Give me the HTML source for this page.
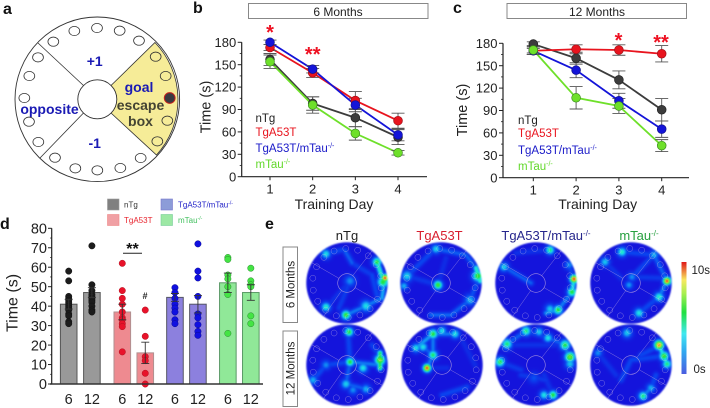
<!DOCTYPE html>
<html lang="en">
<head>
<meta charset="utf-8">
<title>Water maze figure</title>
<style>
html,body{margin:0;padding:0;background:#fff;}
#stage{position:relative;width:710px;height:408px;overflow:hidden;background:#fff;font-family:"Liberation Sans",sans-serif;filter:blur(0.35px);}
#stage canvas{position:absolute;display:block;filter:blur(0.5px);}
#fig{position:absolute;left:0;top:0;}
text{font-family:"Liberation Sans",sans-serif;}
</style>
</head>
<body>
<div id="stage">
<svg id="fig" width="710" height="408" viewBox="0 0 710 408">
  <g font-weight="bold" font-size="16" fill="#111">
    <text x="3" y="14">a</text>
    <text x="193" y="13">b</text>
    <text x="453" y="13">c</text>
    <text x="0" y="229">d</text>
    <text x="265" y="229">e</text>
  </g>

  <g id="arena">
    <circle cx="97.3" cy="99.3" r="82.3" fill="#fff" stroke="#333" stroke-width="0.9"/>
    <path d="M155,42.5 A82.3,82.3 0 0 1 156.5,155 L111,113 A19.5,19.5 0 0 0 111,85.5 Z" fill="#f6ec98" stroke="#333" stroke-width="0.8"/>
    <line x1="38" y1="43" x2="83.5" y2="85.5" stroke="#333" stroke-width="0.8"/>
    <line x1="40" y1="158" x2="83.5" y2="113" stroke="#333" stroke-width="0.8"/>
    <circle cx="97.3" cy="99.3" r="19.5" fill="#fff" stroke="#333" stroke-width="0.9"/>
    <g id="holes"></g>
    <circle cx="169.7" cy="98" r="5.4" fill="#3a3a40" stroke="#c8201c" stroke-width="1"/>
    <g font-weight="bold" font-size="14" text-anchor="middle">
      <text x="94.7" y="66" fill="#1a1ab4">+1</text>
      <text x="49.5" y="114" fill="#1a1ab4">opposite</text>
      <text x="94.7" y="148" fill="#1a1ab4">-1</text>
      <text x="139" y="92" fill="#1a1ab4">goal</text>
      <text x="140.5" y="110" fill="#444433">escape</text>
      <text x="140.5" y="126" fill="#444433">box</text>
    </g>
  </g>

  <g id="panelB">
    <rect x="248.5" y="3.5" width="179.5" height="15" fill="#fff" stroke="#888" stroke-width="1"/>
    <text x="338" y="16" font-size="12" text-anchor="middle" fill="#222">6 Months</text>
    <text transform="translate(210.5,107) rotate(-90)" font-size="14.5" text-anchor="middle" fill="#222">Time (s)</text>
    <text x="334" y="209" font-size="14" text-anchor="middle" fill="#222">Training Day</text>
    <g font-size="11.5">
      <text x="255.5" y="122" fill="#222">nTg</text>
      <text x="255.5" y="136" fill="#e8141e">TgA53T</text>
      <text x="255.5" y="152" fill="#1a1ac8">TgA53T/mTau<tspan font-size="7" dy="-4">-/-</tspan></text>
      <text x="255.5" y="168" fill="#62d82a">mTau<tspan font-size="7" dy="-4">-/-</tspan></text>
    </g>
    <g font-size="20" font-weight="bold" fill="#ee1122" text-anchor="middle">
      <text x="270" y="39">*</text>
      <text x="312.7" y="61">**</text>
    </g>
  </g>

  <g id="panelC">
    <rect x="507" y="3.5" width="179.5" height="15" fill="#fff" stroke="#888" stroke-width="1"/>
    <text x="597" y="16" font-size="12" text-anchor="middle" fill="#222">12 Months</text>
    <text transform="translate(467,110) rotate(-90)" font-size="14.5" text-anchor="middle" fill="#222">Time (s)</text>
    <text x="597.7" y="209" font-size="14" text-anchor="middle" fill="#222">Training Day</text>
    <g font-size="11.5">
      <text x="518" y="124" fill="#222">nTg</text>
      <text x="518" y="137" fill="#e8141e">TgA53T</text>
      <text x="518" y="154" fill="#1a1ac8">TgA53T/mTau<tspan font-size="7" dy="-4">-/-</tspan></text>
      <text x="518" y="170" fill="#62d82a">mTau<tspan font-size="7" dy="-4">-/-</tspan></text>
    </g>
    <g font-size="20" font-weight="bold" fill="#ee1122" text-anchor="middle">
      <text x="618.5" y="47">*</text>
      <text x="661" y="49">**</text>
    </g>
  </g>

  <g id="panelD">
    <text transform="translate(17.5,303) rotate(-90)" font-size="16" text-anchor="middle" fill="#222">Time (s)</text>
    <rect x="107.5" y="199" width="11.5" height="11" fill="#808080" stroke="#999" stroke-width="0.6"/>
    <rect x="107.5" y="214.5" width="11.5" height="11" fill="#f0a0a4" stroke="#e88" stroke-width="0.6"/>
    <rect x="161" y="199" width="11.5" height="11" fill="#8c9cd8" stroke="#77c" stroke-width="0.6"/>
    <rect x="161" y="214.5" width="11.5" height="11" fill="#9ce8a4" stroke="#7c9" stroke-width="0.6"/>
    <g font-size="8">
      <text x="124" y="207.5" fill="#333">nTg</text>
      <text x="124" y="223" fill="#e8242e">TgA53T</text>
      <text x="178" y="207.5" fill="#2222c8">TgA53T/mTau<tspan font-size="5" dy="-3">-/-</tspan></text>
      <text x="178" y="223" fill="#44c060">mTau<tspan font-size="5" dy="-3">-/-</tspan></text>
    </g>
    <text x="132.5" y="254" font-size="16" font-weight="bold" text-anchor="middle" fill="#111">**</text>
    <line x1="123" y1="253.3" x2="142" y2="253.3" stroke="#222" stroke-width="1"/>
    <text x="145" y="299" font-size="9" font-weight="bold" text-anchor="middle" fill="#222">#</text>
  </g>

  <g id="panelE">
    <g font-size="13" text-anchor="middle">
      <text x="347" y="240" fill="#222">nTg</text>
      <text x="439.5" y="240" fill="#d81e2e">TgA53T</text>
      <text x="546" y="240" fill="#26268c">TgA53T/mTau<tspan font-size="8" dy="-4">-/-</tspan></text>
      <text x="639" y="240" fill="#28a040">mTau<tspan font-size="8" dy="-4">-/-</tspan></text>
    </g>
    <rect x="283" y="247" width="14.5" height="75.5" fill="#fff" stroke="#888" stroke-width="1"/>
    <text transform="translate(294.5,284.5) rotate(-90)" font-size="11.5" text-anchor="middle" fill="#222">6 Months</text>
    <rect x="283" y="331" width="14.5" height="75.5" fill="#fff" stroke="#888" stroke-width="1"/>
    <text transform="translate(294.5,368.5) rotate(-90)" font-size="11.5" text-anchor="middle" fill="#222">12 Months</text>
    <defs>
      <linearGradient id="cbar" x1="0" y1="1" x2="0" y2="0">
        <stop offset="0" stop-color="#4a5ce0"/>
        <stop offset="0.2" stop-color="#30a8f0"/>
        <stop offset="0.36" stop-color="#40e8f0"/>
        <stop offset="0.55" stop-color="#20e040"/>
        <stop offset="0.72" stop-color="#a8ee50"/>
        <stop offset="0.84" stop-color="#f8e860"/>
        <stop offset="1" stop-color="#e01818"/>
      </linearGradient>
    </defs>
    <rect x="681.5" y="262" width="5" height="112" fill="url(#cbar)"/>
    <text x="691.5" y="274" font-size="11.5" fill="#222">10s</text>
    <text x="693.5" y="373" font-size="11.5" fill="#222">0s</text>
  </g>
</svg>
</div>

<script>
// ---------- Line chart data ----------
var lineDays = [1, 2, 3, 4];
var lineTicks = [0, 30, 60, 90, 120, 150, 180];
var seriesNames = ['ntg', 'tga53t', 'tga53t-mtau', 'mtau'];

var b_nTg = [157, 98, 79, 53];
var b_TgA53T = [173, 139, 102, 75];
var b_TgMtau = [180, 144, 96, 56];
var b_mTau = [154, 96, 58, 32];
var b_nTgErr = [8, 9, 12, 10];
var b_TgA53TErr = [4, 6, 12, 10];
var b_TgMtauErr = [3, 5, 9, 8];
var b_mTauErr = [9, 11, 9, 3];

var c_nTg = [179, 160, 131, 91];
var c_TgA53T = [170, 172, 171, 166];
var c_TgMtau = [170, 144, 103, 65];
var c_mTau = [171, 107, 96, 43];
var c_nTgErr = [3, 8, 12, 15];
var c_TgA53TErr = [3, 6, 7, 11];
var c_TgMtauErr = [5, 10, 10, 11];
var c_mTauErr = [6, 15, 10, 8];

// ---------- Bar chart data ----------
var barLabels = ['6', '12', '6', '12', '6', '12', '6', '12'];
var barTicks = [0, 10, 20, 30, 40, 50, 60, 70, 80];
var barMeans = [41, 47, 37, 16, 44.5, 41, 52, 47];
var barErrors = [2.5, 2.5, 4, 5.5, 2, 4.5, 5, 4];
var barDots0 = [58, 53, 45, 44, 43, 42, 41, 40, 39, 38, 36, 35, 32, 31];
var barDots1 = [71, 51, 48, 46, 45, 44, 43, 42, 40, 38, 37];
var barDots2 = [62, 48, 44, 41, 37, 34, 33, 31, 29.5, 16.5];
var barDots3 = [38, 24.5, 14, 12, 5.5, 0];
var barDots4 = [49.5, 47, 44, 41, 39, 37, 33, 31];
var barDots5 = [72, 58, 54.5, 45, 36, 34, 30.5, 27, 25];
var barDots6 = [65, 64, 56, 54, 50, 46, 26];
var barDots7 = [59.5, 53, 51, 50, 35, 31];

// ---------- Heatmap data: hot spots [dx, dy, level, spread], trails [x1, y1, x2, y2, level] ----------
var spotsNtg6 = [[30,-21,.62,2.5],[38,-5,1,2],[36,-1,.62,3],[-21,-29,.45,2.5],[-1,32,.65,2.5],[-21,24,.5,2.5],[19,23,.45,3],[3,-2,.3,3]];
var trailsNtg6 = [[30,-21,37,0,.55],[37,0,35,15,.38],[35,15,19,23,.3],[19,23,-1,32,.3],[-21,-29,-5,-33,.2],[-2,-32,5,-20,.25],[5,-20,25,-8,.16],[3,-2,-8,25,.16],[25,-8,30,12,.2],[3,-2,-20,24,.12]];
var spotsTg6 = [[37,-7,.65,3],[-3,2,.66,2.4],[-5,-34,.42,2.5],[-34,-7,.42,3],[-37,3,.36,2.2],[29,17,.36,3]];
var trailsTg6 = [[35,-15,39,-2,.55],[-34,-7,-10,-30,.2],[-5,-34,25,-28,.25],[25,-28,35,-15,.25],[29,17,10,32,.25],[10,32,-10,32,.27],[-34,-7,-3,2,.14],[36,0,29,17,.22],[-3,2,5,-25,.1]];
var spotsNtg12 = [[2,-33,.62,2.4],[33,-5,.75,2.8],[3,-3,.62,2.4],[16,3,.46,2.6],[-1,19,.42,2.6],[-21,0,.3,2.5],[-34,15,.36,2.5],[6,25,.3,2.5],[19,24,.36,2.5]];
var trailsNtg12 = [[33,-12,33,3,.66],[3,-3,33,0,.3],[3,-3,1,-33,.2],[-34,15,-21,0,.2],[-21,0,3,-3,.2],[3,-3,-1,19,.25],[-1,19,19,24,.25],[25,-20,33,-8,.18]];
var spotsTg12 = [[-15,3,1,2.1],[-9,-10,.58,2.5],[-9,-31,.62,2.6],[0,-34,.45,2.4],[13,-31,.46,2.4],[-26,-17,.45,2.4],[-19,-18,.45,2.5]];
var trailsTg12 = [[-9,-31,13,-31,.3],[-26,-17,-9,-31,.36],[-9,-10,-15,3,.3],[-9,-10,-9,-25,.3],[-19,-18,-9,-10,.25],[20,-25,33,0,.1],[0,30,25,22,.2],[-15,3,5,3,.1]];
var spotsMix6 = [[38,-4,1,2.2],[36,9,.62,2.5],[22,27,.62,2.5],[14,-33,.56,2.4],[-32,-16,.42,2.5],[14,26,.4,2.6],[33,-18,.3,2.5]];
var trailsMix6 = [[-32,-16,-5,0,.25],[33,-18,38,-4,.2],[38,-4,36,9,.5],[36,9,22,27,.3],[22,27,10,30,.35],[-20,-30,14,-33,.12]];
var spotsMt6 = [[36,-2,1,2.1],[28,14,.5,2.6],[-9,-31,.5,2.5],[-26,-21,.4,2.5],[8,30,.46,2.6],[23,-28,.36,2.6],[1,-6,.3,2.4],[-2,2,.32,2.2]];
var trailsMt6 = [[-9,-31,23,-28,.2],[23,-28,36,-2,.25],[36,-2,28,14,.3],[28,14,8,30,.2],[1,-6,23,-28,.2],[1,-6,30,-5,.15],[-26,-21,-10,-5,.12]];
var spotsMix12 = [[-10,-34,.56,2.6],[-29,-21,.56,2.8],[-36,-3,.6,2.6],[29,-20,.6,2.8],[34,-8,.72,2.8],[34,-1,.4,2.6],[12,-27,.46,2.4],[3,-33,.4,2.4],[17,30,.62,2.4],[8,30,.46,2.4],[-2,13,.2,3]];
var trailsMix12 = [[-29,-21,-10,-34,.25],[-10,-34,12,-27,.2],[12,-27,29,-20,.25],[29,-20,34,-1,.3],[-36,-3,-15,5,.15],[-15,10,10,15,.15],[17,30,8,10,.12],[-20,-20,25,-20,.12]];
var spotsMt12 = [[28,-20,.95,2.5],[33,-9,.66,2.6],[36,-1,.56,2.4],[-4,-32,.4,2.6],[-33,-12,.3,2.4],[12,31,.56,2.4],[20,23,.36,2.4]];
var trailsMt12 = [[28,-20,36,-1,.5],[33,-9,0,-5,.2],[0,-5,-10,15,.2],[20,23,12,31,.3],[-33,-12,-15,10,.12],[10,-10,30,-20,.2],[25,10,20,23,.2]];

var NS = 'http://www.w3.org/2000/svg';
function mk(tag, attrs, parent) {
  var el = document.createElementNS(NS, tag);
  for (var k in attrs) { el.setAttribute(k, attrs[k]); }
  parent.appendChild(el);
  return el;
}

// Panel a: escape holes
var holePoints = [[291,84],[223,93],[359,92],[160,125],[417,122],[114,172],[467,170],[88,228],[497,228],[73,294],[87,365],[502,362],[115,426],[472,424],[165,473],[422,474],[226,505],[292,511],[361,504]];
var holesGroup = document.getElementById('holes');
holePoints.forEach(function (p, i) {
  var el = mk('ellipse', {cx: p[0] / 3, cy: p[1] / 3, rx: 5.4, ry: 4.6, fill: 'none', stroke: '#333', 'stroke-width': 0.8}, holesGroup);
  
  
});

// Line charts
var lineColors = ['#3c3c3c', '#e8141e', '#1414d8', '#6ee02a'];
var dotStroke = ['#222', '#a01018', '#101090', '#3c8c20'];

function drawLineChart(parent, prefix, ax, values, errors) {
  function x(day) { return ax.x1 + (day - 1) * ax.dx; }
  function y(v) { return ax.y0 - v * (ax.y0 - ax.y180) / 180; }
  var yAxis = mk('line', {x1: ax.left, x2: ax.left, y1: y(0), y2: y(180), stroke: '#222', 'stroke-width': 1.2}, parent);
  
  
  var xAxis = mk('line', {x1: ax.left, x2: ax.right, y1: y(0), y2: y(0), stroke: '#222', 'stroke-width': 1.2}, parent);
  
  
  lineTicks.forEach(function (t, i) {
    var tick = mk('line', {x1: ax.left - 4, x2: ax.left, y1: y(t), y2: y(t), stroke: '#222', 'stroke-width': 1}, parent);
    
    
    if (i > 0) {
      var minor = mk('line', {x1: ax.left - 2, x2: ax.left, y1: y(t - 15), y2: y(t - 15), stroke: '#222', 'stroke-width': 0.8}, parent);
      
      
    }
    var lab = mk('text', {x: ax.left - 5.5, y: y(t) + 4.6, 'font-size': 13, 'text-anchor': 'end', fill: '#222'}, parent);
    lab.textContent = t;
    
    
  });
  lineDays.forEach(function (d) {
    var tick = mk('line', {x1: x(d), x2: x(d), y1: y(0), y2: y(0) + 3.5, stroke: '#222', 'stroke-width': 1}, parent);
    
    
    var lab = mk('text', {x: x(d), y: y(0) + 17, 'font-size': 13, 'text-anchor': 'middle', fill: '#222'}, parent);
    lab.textContent = d;
    
    
  });
  values.forEach(function (series, s) {
    var pts = series.map(function (v, i) { return x(lineDays[i]) + ',' + y(v); }).join(' ');
    var line = mk('polyline', {points: pts, fill: 'none', stroke: lineColors[s], 'stroke-width': 1.8}, parent);
    
    
  });
  values.forEach(function (series, s) {
    series.forEach(function (v, i) {
      var px = x(lineDays[i]);
      var err = errors[s][i];
      var path = 'M' + (px - 6.5) + ' ' + y(v + err) + 'H' + (px + 6.5) + 'M' + (px - 6.5) + ' ' + y(v - err) + 'H' + (px + 6.5) + 'M' + px + ' ' + y(v + err) + 'V' + y(v - err);
      var bar = mk('path', {d: path, fill: 'none', stroke: '#555', 'stroke-width': 0.9}, parent);
      
      
    });
  });
  values.forEach(function (series, s) {
    series.forEach(function (v, i) {
      var dot = mk('circle', {cx: x(lineDays[i]), cy: y(v), r: 4.4, fill: lineColors[s], stroke: dotStroke[s], 'stroke-width': 0.7}, parent);
      
      
    });
  });
}

drawLineChart(document.getElementById('panelB'), 'b',
  {left: 241.7, right: 427, x1: 270, dx: 42.67, y0: 176.7, y180: 42.3},
  [b_nTg, b_TgA53T, b_TgMtau, b_mTau], [b_nTgErr, b_TgA53TErr, b_TgMtauErr, b_mTauErr]);
drawLineChart(document.getElementById('panelC'), 'c',
  {left: 503, right: 689, x1: 533.3, dx: 42.8, y0: 177.7, y180: 43.3},
  [c_nTg, c_TgA53T, c_TgMtau, c_mTau], [c_nTgErr, c_TgA53TErr, c_TgMtauErr, c_mTauErr]);

// Bar chart
(function () {
  var parent = document.getElementById('panelD');
  var dots = [barDots0, barDots1, barDots2, barDots3, barDots4, barDots5, barDots6, barDots7];
  var fills = ['#999999', '#999999', '#ee8a90', '#ee8a90', '#8c80de', '#8c80de', '#90e898', '#90e898'];
  var strokes = ['#555', '#555', '#b09090', '#b09090', '#556', '#556', '#5a9a66', '#5a9a66'];
  var dotFill = ['#1c1c1c', '#1c1c1c', '#e8122a', '#e8122a', '#1010e0', '#1010e0', '#44e444', '#44e444'];
  var dotLine = ['#111', '#111', '#b01020', '#b01020', '#0a0a90', '#0a0a90', '#2a8a30', '#2a8a30'];
  var slots = [0, 1, 2.31, 3.3, 4.58, 5.57, 6.86, 7.85];
  function x(i) { return 68.7 + slots[i] * 23.2; }
  function y(v) { return 384 - v * (384 - 228.3) / 80; }
  barMeans.forEach(function (m, i) {
    var bar = mk('rect', {x: x(i) - 8.3, y: y(m), width: 16.6, height: y(0) - y(m), fill: fills[i], stroke: strokes[i], 'stroke-width': 1}, parent);
    
    
  });
  barMeans.forEach(function (m, i) {
    dots[i].forEach(function (v) {
      var dot = mk('circle', {cx: x(i), cy: y(v), r: 3.2, fill: dotFill[i], stroke: dotLine[i], 'stroke-width': 0.5}, parent);
      
      
    });
    var e = barErrors[i];
    var d = 'M' + (x(i) - 4) + ' ' + y(m + e) + 'H' + (x(i) + 4) + 'M' + (x(i) - 4) + ' ' + y(m - e) + 'H' + (x(i) + 4) + 'M' + x(i) + ' ' + y(m + e) + 'V' + y(m - e);
    var err = mk('path', {d: d, fill: 'none', stroke: '#333', 'stroke-width': 0.9}, parent);
    
    
    var lab = mk('text', {x: x(i), y: 404, 'font-size': 14.5, 'text-anchor': 'middle', fill: '#222'}, parent);
    lab.textContent = barLabels[i];
    
    
  });
  var yAxis = mk('line', {x1: 51.7, x2: 51.7, y1: y(0), y2: y(80), stroke: '#222', 'stroke-width': 1.2}, parent);
  
  
  var xAxis = mk('line', {x1: 50, x2: 263, y1: y(0), y2: y(0), stroke: '#333', 'stroke-width': 1.5}, parent);
  
  
  barTicks.forEach(function (t, i) {
    var tick = mk('line', {x1: 48, x2: 51.7, y1: y(t), y2: y(t), stroke: '#222', 'stroke-width': 1}, parent);
    
    
    if (i > 0) {
      var minor = mk('line', {x1: 50, x2: 51.7, y1: y(t - 5), y2: y(t - 5), stroke: '#222', 'stroke-width': 0.7}, parent);
      
      
    }
    var lab = mk('text', {x: 47, y: y(t) + 5.2, 'font-size': 14.5, 'text-anchor': 'end', fill: '#222'}, parent);
    lab.textContent = t;
    
    
  });
})();

// Heatmaps
var heatStops = [[0,20,20,220],[.18,10,70,240],[.34,20,170,245],[.46,30,235,225],[.6,30,225,60],[.72,120,235,50],[.84,245,240,60],[.93,240,120,30],[1,225,15,20]];
function heatColor(v) {
  v = Math.max(0, Math.min(1, v));
  for (var i = 1; i < heatStops.length; i++) {
    if (v <= heatStops[i][0]) {
      var a = heatStops[i - 1], b = heatStops[i], t = (v - a[0]) / (b[0] - a[0]);
      return [a[1] + t * (b[1] - a[1]), a[2] + t * (b[2] - a[2]), a[3] + t * (b[3] - a[3])];
    }
  }
  return heatStops[heatStops.length - 1].slice(1);
}
function segDist2(px, py, t) {
  var dx = t[2] - t[0], dy = t[3] - t[1];
  var u = ((px - t[0]) * dx + (py - t[1]) * dy) / (dx * dx + dy * dy || 1);
  u = Math.max(0, Math.min(1, u));
  var qx = t[0] + u * dx - px, qy = t[1] + u * dy - py;
  return qx * qx + qy * qy;
}
function drawHeatmap(name, cx, cy, spots, trails) {
  var R = 40.7, S = 84;
  var cv = document.createElement('canvas');
  cv.width = S;
  cv.height = S;
  cv.style.left = (Math.round(cx) - S / 2) + 'px';
  cv.style.top = (Math.round(cy) - S / 2) + 'px';
  
  
  document.getElementById('stage').insertBefore(cv, document.getElementById('fig'));
  var ctx = cv.getContext('2d');
  var img = ctx.createImageData(S, S);
  for (var j = 0; j < S; j++) {
    for (var i = 0; i < S; i++) {
      var px = i + 0.5 - S / 2, py = j + 0.5 - S / 2;
      var dist = Math.sqrt(px * px + py * py);
      var v = 0;
      spots.forEach(function (s) {
        var sg = s[3] * 1.35;
        var d2 = (px - s[0]) * (px - s[0]) + (py - s[1]) * (py - s[1]);
        v = Math.max(v, s[2] * Math.exp(-d2 / (2 * sg * sg)));
      });
      trails.forEach(function (t) {
        v = Math.max(v, t[4] * 0.9 * Math.exp(-segDist2(px, py, t) / 9));
      });
      var c = heatColor(v);
      var k = (i + j * S) * 4;
      img.data[k] = c[0];
      img.data[k + 1] = c[1];
      img.data[k + 2] = c[2];
      img.data[k + 3] = 255 * Math.max(0, Math.min(1, R + 0.5 - dist));
    }
  }
  ctx.putImageData(img, 0, 0);

  var parent = document.getElementById('panelE');
  var ring = mk('circle', {cx: Math.round(cx), cy: Math.round(cy), r: 9.3, fill: 'none', stroke: 'rgba(225,195,225,.7)', 'stroke-width': 0.6}, parent);
  
  
  [-52, -150, 125, 30].forEach(function (deg) {
    var a = deg * Math.PI / 180;
    var l = mk('line', {x1: Math.round(cx) + 9.3 * Math.cos(a), y1: Math.round(cy) + 9.3 * Math.sin(a), x2: Math.round(cx) + R * Math.cos(a), y2: Math.round(cy) + R * Math.sin(a), stroke: 'rgba(225,195,225,.55)', 'stroke-width': 0.5}, parent);
    
    
  });
  for (var h = 0; h < 18; h++) {
    var a2 = (h * 20 + 8) * Math.PI / 180;
    var hole = mk('circle', {cx: Math.round(cx) + 34.5 * Math.cos(a2), cy: Math.round(cy) + 34.5 * Math.sin(a2), r: 3, fill: 'none', stroke: 'rgba(225,205,230,.5)', 'stroke-width': 0.5}, parent);
    
    
  }
}
drawHeatmap('ntg-6m', 347.3, 283.3, spotsNtg6, trailsNtg6);
drawHeatmap('tga53t-6m', 440.7, 283, spotsTg6, trailsTg6);
drawHeatmap('tga53t-mtau-6m', 535.7, 282.7, spotsMix6, trailsMix6);
drawHeatmap('mtau-6m', 630.7, 282.7, spotsMt6, trailsMt6);
drawHeatmap('ntg-12m', 347.3, 365, spotsNtg12, trailsNtg12);
drawHeatmap('tga53t-12m', 442.3, 365, spotsTg12, trailsTg12);
drawHeatmap('tga53t-mtau-12m', 535.7, 365, spotsMix12, trailsMix12);
drawHeatmap('mtau-12m', 630.7, 365, spotsMt12, trailsMt12);
</script>
</body>
</html>
